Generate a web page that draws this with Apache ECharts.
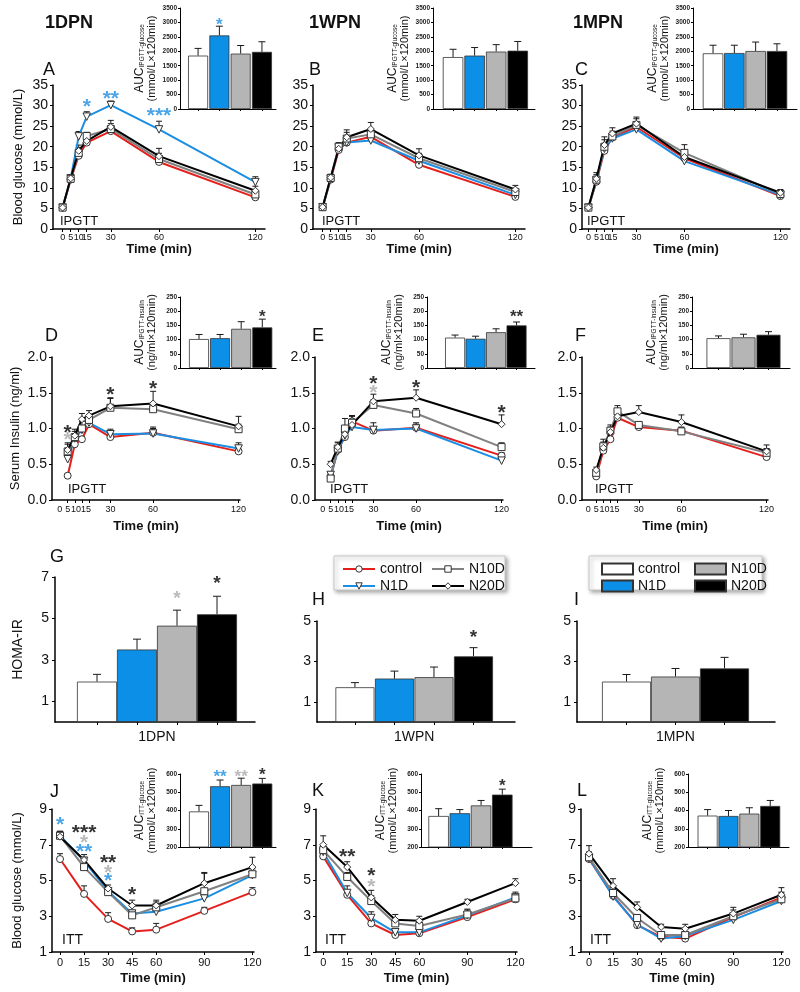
<!DOCTYPE html>
<html><head><meta charset="utf-8">
<script src="https://cdn.jsdelivr.net/npm/echarts@6/dist/echarts.min.js"></script>
<style>html,body{margin:0;padding:0;background:#fff}#c{width:800px;height:992px}</style>
</head><body><div id="c"></div><script>
// ---------------- DATA ----------------
const groups = ['control', 'N1D', 'N10D', 'N20D'];
const groups3 = ['control', 'N10D', 'N20D'];
const ipgttTimes = [0, 5, 10, 15, 30, 60, 120];
const ittTimes = [0, 15, 30, 45, 60, 90, 120];

// A: IPGTT glucose 1DPN
const A_control = [5.2, 12.0, 17.8, 21.0, 23.8, 16.3, 7.7];
const A_N1D = [5.2, 12.3, 22.5, 27.3, 30.1, 24.2, 11.4];
const A_N10D = [5.2, 12.2, 18.5, 22.6, 24.3, 17.0, 8.4];
const A_N20D = [5.2, 12.3, 19.0, 21.4, 24.8, 17.7, 9.3];
const A_control_err = [0.3, 0.7, 0.9, 0.9, 1.2, 1.2, 0.8];
const A_N1D_err = [0.3, 0.8, 1.2, 1.2, 1.0, 2.0, 1.3];
const A_N10D_err = [0.3, 0.8, 1.3, 0.9, 1.3, 1.4, 1.0];
const A_N20D_err = [0.3, 0.8, 1.4, 1.0, 1.6, 1.9, 1.1];
const A_stars = [[15, 31.0, '*', 'N1D'], [30, 32.9, '**', 'N1D'], [60, 28.9, '***', 'N1D']];
// B: IPGTT glucose 1WPN
const B_control = [5.3, 12.0, 19.2, 21.0, 22.4, 15.6, 7.8];
const B_N1D = [5.3, 12.2, 19.8, 21.0, 21.5, 16.6, 8.3];
const B_N10D = [5.3, 12.4, 20.0, 22.0, 23.0, 17.2, 9.0];
const B_N20D = [5.3, 12.5, 19.5, 22.3, 24.3, 17.9, 9.6];
const B_control_err = [0.3, 0.6, 0.9, 0.9, 1.0, 1.0, 0.6];
const B_N1D_err = [0.3, 0.6, 0.9, 0.8, 0.9, 1.0, 0.6];
const B_N10D_err = [0.3, 0.7, 1.0, 1.5, 1.2, 1.2, 0.8];
const B_N20D_err = [0.3, 0.8, 1.1, 1.8, 1.6, 1.6, 1.0];
// C: IPGTT glucose 1MPN
const C_control = [5.2, 11.5, 19.0, 22.3, 24.8, 17.2, 8.0];
const C_N1D = [5.2, 11.8, 19.5, 22.0, 24.2, 16.5, 8.3];
const C_N10D = [5.2, 12.0, 20.0, 22.5, 25.3, 18.5, 8.5];
const C_N20D = [5.2, 12.2, 20.4, 23.2, 25.6, 17.5, 8.8];
const C_control_err = [0.3, 0.7, 1.0, 1.0, 1.0, 1.0, 0.6];
const C_N1D_err = [0.3, 0.8, 1.0, 1.0, 1.0, 1.0, 0.6];
const C_N10D_err = [0.3, 1.2, 1.7, 1.3, 1.5, 2.0, 0.7];
const C_N20D_err = [0.3, 1.5, 2.0, 1.4, 1.6, 1.5, 0.8];
// D: IPGTT insulin 1DPN
const D_control = [0.34, 0.78, 0.85, 1.06, 0.88, 0.94, 0.68];
const D_N1D = [0.57, 0.86, 0.98, 1.08, 0.92, 0.93, 0.72];
const D_N10D = [0.68, 0.88, 1.00, 1.12, 1.29, 1.27, 0.99];
const D_N20D = [0.70, 0.90, 1.13, 1.18, 1.31, 1.35, 1.03];
const D_control_err = [0.03, 0.04, 0.04, 0.04, 0.05, 0.06, 0.03];
const D_N1D_err = [0.05, 0.05, 0.05, 0.04, 0.07, 0.09, 0.08];
const D_N10D_err = [0.10, 0.08, 0.10, 0.07, 0.14, 0.08, 0.07];
const D_N20D_err = [0.10, 0.09, 0.08, 0.07, 0.11, 0.17, 0.14];
const D_stars = [[0, 1.02, '*', 'N20D'], [0, 0.92, '*', 'N10D'], [30, 1.55, '*', 'N20D'], [60, 1.63, '*', 'N20D']];
// E: IPGTT insulin 1WPN
const E_control = [0.33, 0.70, 0.88, 1.10, 0.97, 1.01, 0.62];
const E_N1D = [0.35, 0.68, 0.90, 1.02, 0.98, 1.00, 0.55];
const E_N10D = [0.30, 0.72, 1.00, 1.08, 1.33, 1.21, 0.74];
const E_N20D = [0.50, 0.74, 0.92, 1.05, 1.38, 1.43, 1.06];
const E_control_err = [0.03, 0.05, 0.05, 0.08, 0.05, 0.05, 0.04];
const E_N1D_err = [0.04, 0.06, 0.06, 0.06, 0.10, 0.08, 0.04];
const E_N10D_err = [0.05, 0.08, 0.14, 0.10, 0.07, 0.07, 0.06];
const E_N20D_err = [0.04, 0.07, 0.08, 0.12, 0.10, 0.11, 0.13];
const E_stars = [[30, 1.70, '*', 'N20D'], [30, 1.58, '*', 'N10D'], [60, 1.65, '*', 'N20D'], [120, 1.30, '*', 'N20D']];
// F: IPGTT insulin 1MPN
const F_control = [0.33, 0.69, 0.85, 1.15, 1.02, 0.97, 0.60];
const F_N10D = [0.38, 0.75, 0.97, 1.24, 1.05, 0.96, 0.66];
const F_N20D = [0.42, 0.73, 0.95, 1.17, 1.23, 1.09, 0.68];
const F_control_err = [0.03, 0.05, 0.06, 0.06, 0.04, 0.05, 0.04];
const F_N10D_err = [0.04, 0.10, 0.08, 0.08, 0.04, 0.05, 0.06];
const F_N20D_err = [0.04, 0.08, 0.07, 0.09, 0.09, 0.10, 0.09];
// J: ITT glucose 1DPN
const J_control = [6.2, 4.25, 2.85, 2.15, 2.25, 3.3, 4.35];
const J_N1D = [7.5, 6.1, 4.4, 3.15, 3.25, 4.0, 5.3];
const J_N10D = [7.5, 5.75, 4.35, 3.05, 3.5, 4.4, 5.35];
const J_N20D = [7.45, 6.15, 4.55, 3.6, 3.6, 4.85, 5.75];
const J_control_err = [0.3, 0.45, 0.35, 0.2, 0.35, 0.2, 0.25];
const J_N1D_err = [0.25, 0.2, 0.2, 0.2, 0.2, 0.25, 0.2];
const J_N10D_err = [0.25, 0.2, 0.15, 0.2, 0.3, 1.0, 0.3];
const J_N20D_err = [0.3, 0.3, 0.2, 0.3, 0.3, 0.6, 0.55];
const J_stars = [[0, 8.45, '*', 'N1D'], [15, 7.97, '***', 'N20D'], [15, 7.45, '*', 'N10D'], [15, 6.93, '**', 'N1D'],
                 [30, 6.33, '**', 'N20D'], [30, 5.77, '*', 'N10D'], [30, 5.28, '*', 'N1D'], [45, 4.51, '*', 'N20D']];
// K: ITT glucose 1WPN
const K_control = [6.35, 4.2, 2.6, 1.95, 2.05, 2.95, 3.95];
const K_N1D = [6.6, 4.3, 2.9, 2.1, 2.1, 3.05, 4.05];
const K_N10D = [6.7, 5.2, 3.85, 2.6, 2.45, 3.1, 4.0];
const K_N20D = [7.0, 5.75, 4.05, 2.8, 2.75, 3.8, 4.85];
const K_control_err = [0.2, 0.2, 0.15, 0.1, 0.1, 0.15, 0.2];
const K_N1D_err = [0.25, 0.4, 0.35, 0.2, 0.15, 0.3, 0.2];
const K_N10D_err = [0.3, 0.25, 0.3, 0.25, 0.2, 0.3, 0.35];
const K_N20D_err = [0.5, 0.3, 0.4, 0.3, 0.25, 0.15, 0.25];
const K_stars = [[15, 6.62, '**', 'N20D'], [30, 5.55, '*', 'N20D'], [30, 4.97, '*', 'N10D']];
// L: ITT glucose 1MPN
const L_control = [6.2, 4.15, 2.5, 1.85, 1.75, 2.95, 4.05];
const L_N1D = [6.25, 4.1, 2.55, 1.75, 1.9, 2.8, 3.85];
const L_N10D = [6.3, 4.3, 2.9, 1.95, 1.95, 3.0, 3.95];
const L_N20D = [6.5, 4.7, 3.5, 2.4, 2.3, 3.15, 4.2];
const L_control_err = [0.3, 0.3, 0.15, 0.15, 0.15, 0.25, 0.3];
const L_N1D_err = [0.3, 0.3, 0.2, 0.15, 0.15, 0.3, 0.3];
const L_N10D_err = [0.3, 0.3, 0.2, 0.15, 0.15, 0.35, 0.35];
const L_N20D_err = [0.45, 0.4, 0.3, 0.15, 0.25, 0.35, 0.4];

// AUC insets
const A_auc = [1850, 2550, 1920, 1980]; const A_auc_err = [250, 320, 280, 350]; const A_auc_stars = [[1, 3060, '*', 'N1D']];
const B_auc = [1800, 1850, 1990, 2020]; const B_auc_err = [270, 280, 240, 320];
const C_auc = [1930, 1940, 2010, 2010]; const C_auc_err = [280, 270, 310, 250];
const D_auc = [102, 105, 138, 143]; const D_auc_err = [16, 13, 25, 29]; const D_auc_stars = [[3, 197, '*', 'N20D']];
const E_auc = [107, 103, 126, 150]; const E_auc_err = [9, 9, 12, 12]; const E_auc_stars = [[3, 197, '**', 'N20D']];
const F_auc = [105, 108, 117]; const F_auc_err = [8, 11, 11];
const J_auc = [395, 533, 540, 548]; const J_auc_err = [33, 34, 37, 28];
const J_auc_stars = [[1, 611, '**', 'N1D'], [2, 611, '**', 'N10D'], [3, 622, '*', 'N20D']];
const K_auc = [370, 385, 428, 487]; const K_auc_err = [40, 20, 27, 30]; const K_auc_stars = [[3, 561, '*', 'N20D']];
const L_auc = [372, 370, 383, 425]; const L_auc_err = [33, 30, 32, 30];

// HOMA-IR
const G_homa = [1.95, 3.5, 4.65, 5.2]; const G_homa_err = [0.35, 0.5, 0.75, 0.87];
const G_stars = [[2, 6.2, '*', 'N10D'], [3, 6.9, '*', 'N20D']];
const H_homa = [1.72, 2.15, 2.22, 3.25]; const H_homa_err = [0.23, 0.37, 0.5, 0.43];
const H_stars = [[3, 4.4, '*', 'N20D']];
const I_homa = [2.0, 2.25, 2.65]; const I_homa_err = [0.35, 0.4, 0.55];

// ---------------- STYLE ----------------
const FONT = '"Liberation Sans", Arial, Helvetica, sans-serif';
const LINE_COLOR = {control: '#e4201c', N1D: '#1b8ee2', N10D: '#808080', N20D: '#000000'};
const BAR_COLOR = {control: '#ffffff', N1D: '#0c8fe6', N10D: '#b5b5b5', N20D: '#000000'};
const STAR_COLOR = {control: '#e4201c', N1D: '#1b8ee2', N10D: '#a9a9a9', N20D: '#000000'};
const SYMBOL = {control: 'circle', N1D: 'triangle', N10D: 'rect', N20D: 'diamond'};
const SYMBOL_ROT = {control: 0, N1D: 180, N10D: 0, N20D: 0};

const option = {
  animation: false, backgroundColor: '#ffffff', textStyle: {fontFamily: FONT},
  grid: [], xAxis: [], yAxis: [], series: [], legend: [], graphic: {elements: []}
};

function addGrid(g) {
  option.grid.push(Object.assign({containLabel: false, outerBoundsMode: 'none', show: false}, g));
  return option.grid.length - 1;
}

function errSeries(xi, yi, data, cap) {
  return {
    type: 'custom', xAxisIndex: xi, yAxisIndex: yi, silent: true, z: 2, data: data, clip: false,
    encode: {x: 0, y: 1},
    renderItem: function (params, api) {
      const p0 = api.coord([api.value(0), api.value(1)]);
      const p1 = api.coord([api.value(0), api.value(1) + api.value(2)]);
      const st = {stroke: '#1a1a1a', lineWidth: 1};
      return {type: 'group', children: [
        {type: 'line', shape: {x1: p0[0], y1: p0[1], x2: p1[0], y2: p1[1]}, style: st},
        {type: 'line', shape: {x1: p1[0] - cap, y1: p1[1], x2: p1[0] + cap, y2: p1[1]}, style: st}
      ]};
    }
  };
}

function starSeries(xi, yi, stars, fontSize) {
  return {
    type: 'scatter', xAxisIndex: xi, yAxisIndex: yi, silent: true, z: 6, symbolSize: 1, clip: false,
    itemStyle: {color: 'rgba(0,0,0,0)'},
    label: {show: true, position: 'inside', fontSize: fontSize, fontWeight: 'bold', fontFamily: FONT,
            offset: [0, Math.round(fontSize * 0.28)]},
    data: stars.map(s => ({value: [s[0], s[1]], label: {formatter: s[2], color: STAR_COLOR[s[3]]}}))
  };
}

function axisLineStyle(w) { return {show: true, onZero: false, lineStyle: {color: '#000', width: w}}; }

function linePanel(c) {
  const gi = addGrid(c.grid);
  option.xAxis.push({
    type: 'value', gridIndex: gi, min: c.xMin, max: c.xMax,
    name: 'Time (min)', nameLocation: 'middle', nameGap: c.xNameGap,
    nameTextStyle: {fontSize: 13, fontWeight: 'bold', color: '#111', fontFamily: FONT},
    axisLine: axisLineStyle(1.5),
    axisTick: {show: true, customValues: c.times, length: 3, lineStyle: {color: '#000', width: 1}},
    axisLabel: Object.assign({customValues: c.times, fontSize: c.xFont, color: '#111', margin: c.xMargin, fontFamily: FONT}, c.xLabelExtra || {}),
    splitLine: {show: false}
  });
  const xi = option.xAxis.length - 1;
  const yAx = {
    type: 'value', gridIndex: gi, min: c.yMin, max: c.yMax,
    name: c.yName || '', nameLocation: 'middle', nameRotate: 90, nameGap: c.yNameGap || 30,
    nameTextStyle: {fontSize: 13, color: '#111', fontFamily: FONT},
    axisLine: axisLineStyle(1.5),
    axisTick: {show: true, length: 3, lineStyle: {color: '#000'}},
    axisLabel: {fontSize: 14, color: '#111', margin: 5, fontFamily: FONT},
    splitLine: {show: false}
  };
  if (c.yInterval) yAx.interval = c.yInterval;
  if (c.yTicks) { yAx.axisTick.customValues = c.yTicks; yAx.axisLabel.customValues = c.yTicks; }
  if (c.yFmt) yAx.axisLabel.formatter = c.yFmt;
  option.yAxis.push(yAx);
  const yi = option.yAxis.length - 1;
  c.groups.forEach(g => {
    option.series.push({
      type: 'line', name: g, xAxisIndex: xi, yAxisIndex: yi, silent: true, z: 3,
      data: c.times.map((t, i) => [t, c.mean[g][i]]),
      symbol: SYMBOL[g], symbolRotate: SYMBOL_ROT[g], symbolSize: SYMBOL[g] === 'triangle' ? 7.5 : 7, showSymbol: true,
      lineStyle: {color: LINE_COLOR[g], width: 2},
      itemStyle: {color: '#ffffff', borderColor: '#333', borderWidth: 1}
    });
    option.series.push(errSeries(xi, yi, c.times.map((t, i) => [t, c.mean[g][i], c.err[g][i]]), 3));
  });
  if (c.stars) option.series.push(starSeries(xi, yi, c.stars, 21));
}

function insetPanel(c) {
  const gi = addGrid(c.grid);
  const idx = c.values.map((v, i) => i);
  option.xAxis.push({
    type: 'value', gridIndex: gi, min: c.xMin, max: c.xMax,
    axisLine: axisLineStyle(1),
    axisTick: {show: true, customValues: idx, length: 2, lineStyle: {color: '#000'}},
    axisLabel: {show: false}, splitLine: {show: false}
  });
  const xi = option.xAxis.length - 1;
  option.yAxis.push({
    type: 'value', gridIndex: gi, min: c.yMin, max: c.yMax, interval: c.yInterval,
    name: '{a|AUC}{s|' + c.sub + '}\n{b|' + c.unit + '}', nameLocation: 'middle', nameRotate: 90, nameGap: 22,
    nameTextStyle: {color: '#111', rich: {
      a: {fontSize: 12, fontFamily: FONT, color: '#111', lineHeight: 13},
      s: {fontSize: 6.5, fontFamily: FONT, color: '#111', verticalAlign: 'bottom', lineHeight: 13},
      b: {fontSize: 11, fontFamily: FONT, color: '#111', lineHeight: 12}
    }},
    axisLine: axisLineStyle(1),
    axisTick: {show: true, length: 2, lineStyle: {color: '#000'}},
    axisLabel: {fontSize: 6.5, fontWeight: 'bold', color: '#222', margin: 3, fontFamily: FONT, formatter: v => String(v)},
    splitLine: {show: false}
  });
  const yi = option.yAxis.length - 1;
  option.series.push({
    type: 'bar', xAxisIndex: xi, yAxisIndex: yi, silent: true, barWidth: c.barWidth, z: 3,
    itemStyle: {borderColor: '#333', borderWidth: 0.8},
    data: c.values.map((v, i) => ({value: [i, v], itemStyle: {color: BAR_COLOR[c.groups[i]]}}))
  });
  option.series.push(errSeries(xi, yi, c.values.map((v, i) => [i, v, c.err[i]]), 3.5));
  if (c.stars) option.series.push(starSeries(xi, yi, c.stars, 17));
}

function homaPanel(c) {
  const gi = addGrid(c.grid);
  const idx = c.values.map((v, i) => i);
  option.xAxis.push({
    type: 'value', gridIndex: gi, min: c.xMin, max: c.xMax,
    axisLine: axisLineStyle(1.5),
    axisTick: {show: true, customValues: idx, length: 3, lineStyle: {color: '#000'}},
    axisLabel: {customValues: [(c.values.length - 1) / 2], formatter: () => c.label, fontSize: 14, color: '#111', margin: 8, fontFamily: FONT},
    splitLine: {show: false}
  });
  const xi = option.xAxis.length - 1;
  option.yAxis.push({
    type: 'value', gridIndex: gi, min: 0, max: c.yMax,
    name: c.yName || '', nameLocation: 'middle', nameRotate: 90, nameGap: 30,
    nameTextStyle: {fontSize: 14, color: '#111', fontFamily: FONT},
    axisLine: axisLineStyle(1.5),
    axisTick: {show: true, customValues: c.yTicks, length: 3, lineStyle: {color: '#000'}},
    axisLabel: {customValues: c.yTicks, fontSize: 14, color: '#111', margin: 6, fontFamily: FONT},
    splitLine: {show: false}
  });
  const yi = option.yAxis.length - 1;
  c.groups.forEach((g, i) => {
    option.series.push({
      type: 'bar', name: g + ' bar', xAxisIndex: xi, yAxisIndex: yi, silent: true, z: 3,
      barWidth: c.barWidth, barGap: '-100%',
      itemStyle: {color: BAR_COLOR[g], borderColor: '#333', borderWidth: 0.8},
      data: [[i, c.values[i]]]
    });
  });
  option.series.push(errSeries(xi, yi, c.values.map((v, i) => [i, v, c.err[i]]), 4));
  if (c.stars) option.series.push(starSeries(xi, yi, c.stars, 19));
}

const store = {A_control, A_N1D, A_N10D, A_N20D, A_control_err, A_N1D_err, A_N10D_err, A_N20D_err,
  B_control, B_N1D, B_N10D, B_N20D, B_control_err, B_N1D_err, B_N10D_err, B_N20D_err,
  C_control, C_N1D, C_N10D, C_N20D, C_control_err, C_N1D_err, C_N10D_err, C_N20D_err,
  D_control, D_N1D, D_N10D, D_N20D, D_control_err, D_N1D_err, D_N10D_err, D_N20D_err,
  E_control, E_N1D, E_N10D, E_N20D, E_control_err, E_N1D_err, E_N10D_err, E_N20D_err,
  F_control, F_N10D, F_N20D, F_control_err, F_N10D_err, F_N20D_err,
  J_control, J_N1D, J_N10D, J_N20D, J_control_err, J_N1D_err, J_N10D_err, J_N20D_err,
  K_control, K_N1D, K_N10D, K_N20D, K_control_err, K_N1D_err, K_N10D_err, K_N20D_err,
  L_control, L_N1D, L_N10D, L_N20D, L_control_err, L_N1D_err, L_N10D_err, L_N20D_err};
const means = (p, gs) => Object.fromEntries(gs.map(g => [g, store[p + '_' + g]]));
const errs = (p, gs) => Object.fromEntries(gs.map(g => [g, store[p + '_' + g + '_err']]));

// ---------------- ROW 1: IPGTT glucose ----------------
const row1 = {yMin: 0, yMax: 35, yInterval: 5, times: ipgttTimes, xFont: 9, xMargin: 4, xNameGap: 14};
linePanel(Object.assign({}, row1, {grid: {left: 53, top: 85, width: 212, height: 144}, xMin: -6, xMax: 126,
  yName: 'Blood glucose (mmol/L)', yNameGap: 28, groups: groups, mean: means('A', groups), err: errs('A', groups), stars: A_stars}));
linePanel(Object.assign({}, row1, {grid: {left: 313, top: 85, width: 212, height: 144}, xMin: -6, xMax: 126,
  groups: groups, mean: means('B', groups), err: errs('B', groups)}));
linePanel(Object.assign({}, row1, {grid: {left: 582, top: 85, width: 208, height: 144}, xMin: -4, xMax: 126,
  groups: groups, mean: means('C', groups), err: errs('C', groups)}));

// ---------------- ROW 2: IPGTT insulin ----------------
const shiftRich = {
  s0: {fontSize: 9, color: '#111', padding: [0, 16, 0, 0]},
  s5: {fontSize: 9, color: '#111', padding: [0, 14, 0, 0]},
  s10: {fontSize: 9, color: '#111', padding: [0, 12, 0, 0]},
  s15: {fontSize: 9, color: '#111', padding: [0, 6, 0, 0]},
  n: {fontSize: 9, color: '#111'}
};
const row2 = {yMin: 0, yMax: 2, yInterval: 0.5, yFmt: v => v.toFixed(1), times: ipgttTimes, xFont: 9, xMargin: 5, xNameGap: 20,
  xLabelExtra: {formatter: v => (v <= 15 ? '{s' + v + '|' + v + '}' : '{n|' + v + '}'), rich: shiftRich}};
linePanel(Object.assign({}, row2, {grid: {left: 52, top: 357, width: 188, height: 143}, xMin: -11, xMax: 121,
  yName: 'Serum Insulin (ng/ml)', yNameGap: 30, groups: groups, mean: means('D', groups), err: errs('D', groups), stars: D_stars}));
linePanel(Object.assign({}, row2, {grid: {left: 315, top: 357, width: 188, height: 143}, xMin: -11, xMax: 121,
  groups: groups, mean: means('E', groups), err: errs('E', groups), stars: E_stars}));
linePanel(Object.assign({}, row2, {grid: {left: 582, top: 357, width: 186, height: 143}, xMin: -10, xMax: 121,
  groups: groups3, mean: means('F', groups3), err: errs('F', groups3)}));

// ---------------- ROW 4: ITT ----------------
const row4 = {yMin: 1, yMax: 9, yTicks: [1, 3, 5, 7, 9], times: ittTimes, xFont: 11, xMargin: 5, xNameGap: 20};
linePanel(Object.assign({}, row4, {grid: {left: 52, top: 809, width: 202, height: 143}, xMin: -5, xMax: 121,
  yName: 'Blood glucose (mmol/L)', yNameGap: 28, groups: groups, mean: means('J', groups), err: errs('J', groups), stars: J_stars}));
linePanel(Object.assign({}, row4, {grid: {left: 316, top: 809, width: 201, height: 143}, xMin: -4.5, xMax: 121,
  groups: groups, mean: means('K', groups), err: errs('K', groups), stars: K_stars}));
linePanel(Object.assign({}, row4, {grid: {left: 581, top: 809, width: 202, height: 143}, xMin: -5, xMax: 121,
  groups: groups, mean: means('L', groups), err: errs('L', groups)}));

// ---------------- INSETS ----------------
const glu = {yMin: 0, yMax: 3500, yInterval: 500, sub: 'IPGTT-glucose', unit: '(mmol/L×120min)'};
insetPanel(Object.assign({}, glu, {grid: {left: 180, top: 8, width: 96, height: 101}, xMin: -0.85, xMax: 3.66, barWidth: 20, groups: groups, values: A_auc, err: A_auc_err, stars: A_auc_stars}));
insetPanel(Object.assign({}, glu, {grid: {left: 433, top: 8, width: 102, height: 101}, xMin: -0.93, xMax: 3.8, barWidth: 20.5, groups: groups, values: B_auc, err: B_auc_err}));
insetPanel(Object.assign({}, glu, {grid: {left: 693, top: 8, width: 104, height: 101}, xMin: -0.94, xMax: 3.94, barWidth: 20.5, groups: groups, values: C_auc, err: C_auc_err}));
const ins = {yMin: 0, yMax: 250, yInterval: 50, sub: 'IPGTT-insulin', unit: '(ng/ml×120min)'};
insetPanel(Object.assign({}, ins, {grid: {left: 180, top: 297, width: 96, height: 71}, xMin: -0.9, xMax: 3.65, barWidth: 20, groups: groups, values: D_auc, err: D_auc_err, stars: D_auc_stars}));
insetPanel(Object.assign({}, ins, {grid: {left: 427, top: 297, width: 108, height: 71}, xMin: -1.37, xMax: 3.9, barWidth: 20, groups: groups, values: E_auc, err: E_auc_err, stars: E_auc_stars}));
insetPanel(Object.assign({}, ins, {grid: {left: 692, top: 297, width: 98, height: 71}, xMin: -1.06, xMax: 2.86, barWidth: 24, groups: groups3, values: F_auc, err: F_auc_err}));
const itt = {yMin: 200, yMax: 600, yInterval: 100, sub: 'ITT-glucose', unit: '(mmol/L×120min)'};
insetPanel(Object.assign({}, itt, {grid: {left: 180, top: 774, width: 96, height: 73}, xMin: -0.9, xMax: 3.65, barWidth: 20, groups: groups, values: J_auc, err: J_auc_err, stars: J_auc_stars}));
insetPanel(Object.assign({}, itt, {grid: {left: 421, top: 774, width: 111, height: 73}, xMin: -0.83, xMax: 4.4, barWidth: 20.5, groups: groups, values: K_auc, err: K_auc_err, stars: K_auc_stars}));
insetPanel(Object.assign({}, itt, {grid: {left: 688, top: 774, width: 101, height: 73}, xMin: -0.94, xMax: 3.9, barWidth: 20, groups: groups, values: L_auc, err: L_auc_err}));

// ---------------- ROW 3: HOMA-IR ----------------
homaPanel({grid: {left: 55, top: 577, width: 200, height: 145}, xMin: -1.05, xMax: 3.95, barWidth: 40, yMax: 7, yTicks: [1, 3, 5, 7],
  yName: 'HOMA-IR', label: '1DPN', groups: groups, values: G_homa, err: G_homa_err, stars: G_stars});
homaPanel({grid: {left: 317, top: 621, width: 198, height: 101}, xMin: -0.96, xMax: 4.05, barWidth: 39, yMax: 5, yTicks: [1, 3, 5],
  label: '1WPN', groups: groups, values: H_homa, err: H_homa_err, stars: H_stars});
homaPanel({grid: {left: 577, top: 621, width: 198, height: 101}, xMin: -1.01, xMax: 3.03, barWidth: 49, yMax: 5, yTicks: [1, 3, 5],
  label: '1MPN', groups: groups3, values: I_homa, err: I_homa_err});

// ---------------- LEGENDS ----------------
const legText = {fontSize: 14, color: '#111', fontFamily: FONT};
const lineItem = g => ({name: g, itemStyle: {color: '#ffffff', borderColor: '#333', borderWidth: 1}, lineStyle: {color: LINE_COLOR[g], width: 2}});
option.legend.push({left: 337, top: 557, orient: 'vertical', itemWidth: 32, itemHeight: 8, itemGap: 3, selectedMode: false, z: 5, textStyle: legText, data: ['control', 'N1D'].map(lineItem)});
option.legend.push({left: 426, top: 557, orient: 'vertical', itemWidth: 32, itemHeight: 8, itemGap: 3, selectedMode: false, z: 5, textStyle: legText, data: ['N10D', 'N20D'].map(lineItem)});
option.legend.push({left: 596, top: 557, orient: 'vertical', icon: 'rect', itemWidth: 31, itemHeight: 11, itemGap: 3, selectedMode: false, z: 5, textStyle: legText,
  formatter: n => n.replace(' bar', ''), data: ['control bar', 'N1D bar']});
option.legend.push({left: 689, top: 557, orient: 'vertical', icon: 'rect', itemWidth: 31, itemHeight: 11, itemGap: 3, selectedMode: false, z: 5, textStyle: legText,
  formatter: n => n.replace(' bar', ''), data: ['N10D bar', 'N20D bar']});

// ---------------- TEXT LABELS ----------------
const boxStyle = {fill: '#fff', stroke: '#c8c8c8', lineWidth: 1, shadowBlur: 4, shadowOffsetX: 2, shadowOffsetY: 2, shadowColor: 'rgba(0,0,0,0.35)'};
option.graphic.elements.push({type: 'rect', z: 0, shape: {x: 334, y: 556, width: 171, height: 34}, style: boxStyle});
option.graphic.elements.push({type: 'rect', z: 0, shape: {x: 589, y: 556, width: 173, height: 34}, style: boxStyle});
const labels = [
  ['1DPN', 45, 23, 18, 'bold'], ['1WPN', 309, 23, 18, 'bold'], ['1MPN', 573, 23, 18, 'bold'],
  ['A', 43, 70, 18, 'normal'], ['B', 309, 70, 18, 'normal'], ['C', 575, 70, 18, 'normal'],
  ['D', 45, 336, 18, 'normal'], ['E', 312, 336, 18, 'normal'], ['F', 575, 336, 18, 'normal'],
  ['G', 50, 557, 18, 'normal'], ['H', 312, 600, 18, 'normal'], ['I', 574, 600, 18, 'normal'],
  ['J', 50, 792, 18, 'normal'], ['K', 312, 791, 18, 'normal'], ['L', 577, 791, 18, 'normal'],
  ['IPGTT', 60, 221, 13, 'normal'], ['IPGTT', 322, 221, 13, 'normal'], ['IPGTT', 587, 221, 13, 'normal'],
  ['IPGTT', 68, 489, 13, 'normal'], ['IPGTT', 330, 489, 13, 'normal'], ['IPGTT', 595, 489, 13, 'normal'],
  ['ITT', 62, 940, 14, 'normal'], ['ITT', 325, 940, 14, 'normal'], ['ITT', 590, 940, 14, 'normal']
];
labels.forEach(l => option.graphic.elements.push({
  type: 'text', x: l[1], y: l[2], z: 10, silent: true,
  style: {text: l[0], fontSize: l[3], fontWeight: l[4], fontFamily: FONT, fill: '#111', align: 'left', verticalAlign: 'middle'}
}));

const chart = echarts.init(document.getElementById('c'), null, {renderer: 'canvas'});
chart.setOption(option);
</script></body></html>
